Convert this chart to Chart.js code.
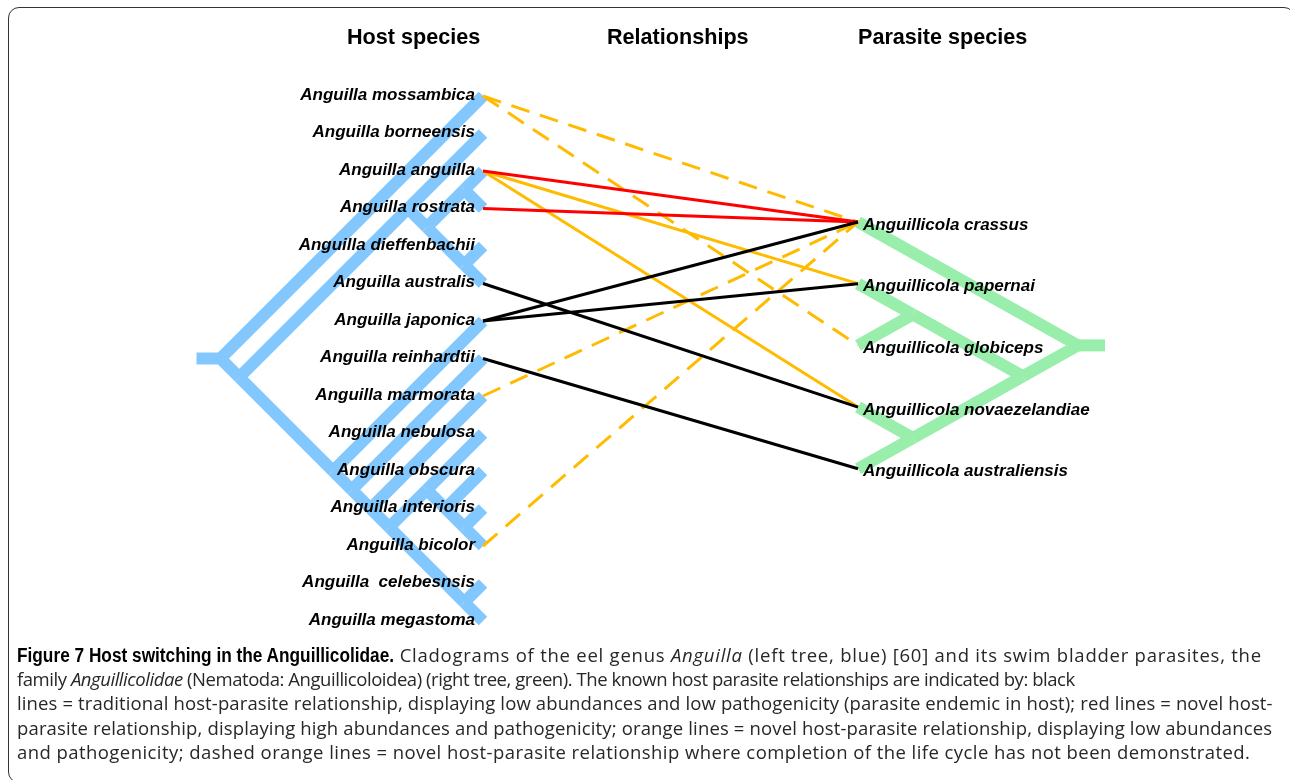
<!DOCTYPE html>
<html><head><meta charset="utf-8">
<script src="https://cdn.jsdelivr.net/npm/chart.js@4.4.1/dist/chart.umd.min.js"></script>
<style>
html,body{margin:0;padding:0;background:#fff;}
body{width:1290px;height:780px;position:relative;overflow:hidden;}
#frame{position:absolute;left:8px;top:7px;width:1287px;height:776px;border:1.6px solid #333;border-radius:11px;box-sizing:border-box;}
#chartBox{position:absolute;left:0;top:0;width:1290px;height:780px;}
.hdr{position:absolute;top:24px;font:bold 21.6px 'Liberation Sans',Arial,sans-serif;color:#000;white-space:nowrap;}
#caption{position:absolute;left:17px;top:643px;}
.cap{font:18.5px 'Open Sans',sans-serif;color:#2a2627;white-space:nowrap;line-height:24.2px;height:24.2px;}
.cap b{display:inline-block;font:bold 20px 'Liberation Sans',Arial,sans-serif;color:#000;transform-origin:0 50%;white-space:nowrap;}
.cap span{display:inline-block;white-space:pre;}
</style></head>
<body>
<div id="frame"></div>
<div id="chartBox"><canvas id="c" width="1290" height="780"></canvas></div>
<div class="hdr" style="left:347px">Host species</div>
<div class="hdr" style="left:607px">Relationships</div>
<div class="hdr" style="left:858px">Parasite species</div>
<div id="caption">
<div class="cap"><b>Figure 7 Host switching in the Anguillicolidae.</b><span> Cladograms of the eel genus <i>Anguilla</i> (left tree, blue) [60] and its swim bladder parasites, the</span></div>
<div class="cap"><span>family <i>Anguillicolidae</i> (Nematoda: Anguillicoloidea) (right tree, green). The known host parasite relationships are indicated by: black</span></div>
<div class="cap"><span>lines = traditional host-parasite relationship, displaying low abundances and low pathogenicity (parasite endemic in host); red lines = novel host-</span></div>
<div class="cap"><span>parasite relationship, displaying high abundances and pathogenicity; orange lines = novel host-parasite relationship, displaying low abundances</span></div>
<div class="cap"><span>and pathogenicity; dashed orange lines = novel host-parasite relationship where completion of the life cycle has not been demonstrated.</span></div>
</div>
<script>
// ---------- data ----------
const hostSpecies = ['Anguilla mossambica','Anguilla borneensis','Anguilla anguilla','Anguilla rostrata','Anguilla dieffenbachii','Anguilla australis','Anguilla japonica','Anguilla reinhardtii','Anguilla marmorata','Anguilla nebulosa','Anguilla obscura','Anguilla interioris','Anguilla bicolor','Anguilla  celebesnsis','Anguilla megastoma'];
const parasiteSpecies = ['Anguillicola crassus','Anguillicola papernai','Anguillicola globiceps','Anguillicola novaezelandiae','Anguillicola australiensis'];
// cladogram topologies (nested pairs of tip indices)
const hostTree = [0, [[1, [[2, 3], [4, 5]]], [6, [7, [8, [[9, [10, [11, 12]]], [13, 14]]]]]]];
const parasiteTree = [0, [[1, 2], [3, 4]]];
// host -> parasite relationships [hostIndex, parasiteIndex]
const traditionalLinks = [[5, 3], [6, 0], [6, 1], [7, 4]];      // black
const highPathogenicLinks = [[2, 0], [3, 0]];                    // red
const lowPathogenicLinks = [[2, 1], [2, 3]];                     // orange
const unconfirmedLinks = [[0, 0], [0, 2], [8, 0], [12, 0]];      // dashed orange

// ---------- layout constants ----------
const HOST_TIP_X = 483, PARA_TIP_X = 858;
const HOST_DX = 37.5, PARA_DX = 110;          // horizontal offset per tip-span unit
const PARA_Y0 = 3.36, PARA_STEP = 1.645;      // parasite tip positions on host-index axis
const BLUE = 'rgb(130,200,255)', GREEN = 'rgb(154,238,172)';
const RED = 'rgb(255,0,0)', ORANGE = 'rgb(255,187,0)', BLACK = '#000';

function buildTree(tree, tipX, dir, dx, yOf, edges) {
  function rec(node) {
    if (typeof node === 'number') return {x: tipX, y: yOf(node), lo: node, hi: node};
    const kids = node.map(rec);
    const lo = Math.min(...kids.map(k => k.lo)), hi = Math.max(...kids.map(k => k.hi));
    const p = {x: tipX + dir * dx * (hi - lo) / 2, y: (yOf(lo) + yOf(hi)) / 2, lo, hi};
    kids.forEach(k => edges.push([{x: p.x, y: p.y}, {x: k.x, y: k.y}]));
    return p;
  }
  return rec(tree);
}
const hostY = i => i;
const paraY = j => PARA_Y0 + j * PARA_STEP;

const datasets = [];
function seg(pts, color, width, extra) {
  datasets.push(Object.assign({data: pts, borderColor: color, backgroundColor: color, borderWidth: width,
    showLine: true, pointRadius: 0, pointHoverRadius: 0, borderCapStyle: 'butt', clip: false, fill: false, tension: 0}, extra || {}));
}
const hostEdges = [], paraEdges = [];
const hRoot = buildTree(hostTree, HOST_TIP_X, -1, HOST_DX, hostY, hostEdges);
const pRoot = buildTree(parasiteTree, PARA_TIP_X, 1, PARA_DX, paraY, paraEdges);
hostEdges.forEach(e => seg(e, BLUE, 12, {order: 2}));
seg([{x: hRoot.x - 24, y: hRoot.y}, {x: hRoot.x + 4, y: hRoot.y}], BLUE, 12, {order: 2});
paraEdges.forEach(e => seg(e, GREEN, 12, {order: 2}));
seg([{x: pRoot.x - 4, y: pRoot.y}, {x: pRoot.x + 27, y: pRoot.y}], GREEN, 12, {order: 2});

function link(pair, color, dash) {
  seg([{x: HOST_TIP_X, y: hostY(pair[0])}, {x: PARA_TIP_X, y: paraY(pair[1])}], color, 3,
      {order: 1, borderDash: dash || []});
}
traditionalLinks.forEach(p => link(p, BLACK));
highPathogenicLinks.forEach(p => link(p, RED));
lowPathogenicLinks.forEach(p => link(p, ORANGE));
unconfirmedLinks.forEach(p => link(p, ORANGE, [19, 11]));

const labelPlugin = {
  id: 'tipLabels',
  afterDatasetsDraw(chart) {
    const ctx = chart.ctx, xs = chart.scales.x, ys = chart.scales.y;
    ctx.save();
    ctx.font = 'italic bold 17px "Liberation Sans", Arial, sans-serif';
    ctx.fillStyle = '#000';
    ctx.textBaseline = 'middle';
    ctx.textAlign = 'right';
    hostSpecies.forEach((n, i) => ctx.fillText(n, xs.getPixelForValue(HOST_TIP_X) - 8, ys.getPixelForValue(hostY(i)) - 1));
    ctx.textAlign = 'left';
    parasiteSpecies.forEach((n, j) => ctx.fillText(n, xs.getPixelForValue(PARA_TIP_X) + 5, ys.getPixelForValue(paraY(j)) + 3));
    ctx.restore();
  }
};

new Chart(document.getElementById('c'), {
  type: 'scatter',
  data: {datasets},
  options: {
    responsive: false, animation: false, events: [],
    layout: {padding: {top: 96, bottom: 159, left: 0, right: 0}},
    plugins: {legend: {display: false}, tooltip: {enabled: false}},
    scales: {
      x: {type: 'linear', min: 0, max: 1290, display: false},
      y: {type: 'linear', min: 0, max: 14, reverse: true, display: false}
    }
  },
  plugins: [labelPlugin]
});

// fit caption text to the reference line widths (bold lead condensed by scaleX)
const BOLD_W = 377;
const capRight = [1262, 1075, 1273, 1272, 1250];
function fitCaption() {
  const boldEl = document.querySelector('.cap b');
  boldEl.style.transform = 'none';
  boldEl.style.marginRight = '0px';
  const bw = boldEl.offsetWidth;
  boldEl.style.transform = 'scaleX(' + (BOLD_W / bw) + ')';
  boldEl.style.marginRight = (BOLD_W - bw) + 'px';
  document.querySelectorAll('.cap').forEach((el, i) => {
    const sp = el.querySelector('span');
    sp.style.letterSpacing = '0px';
    const start = i === 0 ? 17 + BOLD_W : 17;
    const w = sp.offsetWidth;
    sp.style.letterSpacing = ((capRight[i] - start - w) / sp.textContent.length) + 'px';
  });
}
fitCaption();
if (document.fonts && document.fonts.ready) document.fonts.ready.then(fitCaption);
</script>
</body></html>
